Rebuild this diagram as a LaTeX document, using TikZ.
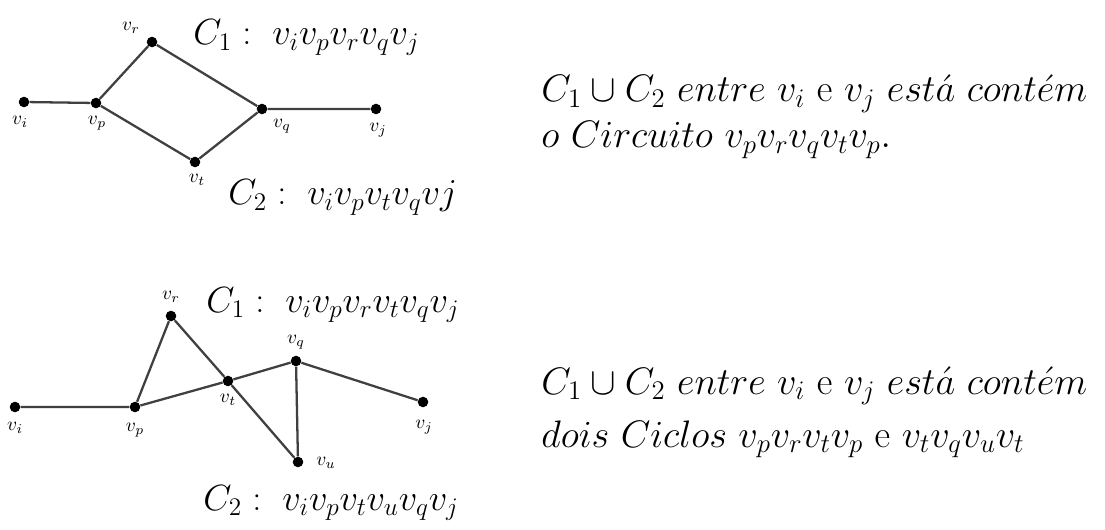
\RequirePackage{fix-cm}
\documentclass[tikz,border=0pt]{standalone}
\usepackage{amsmath,amssymb}
\usepackage{tikz}

\tikzset{
  vtx/.style={circle,fill=black,inner sep=0pt,minimum size=6pt},
  edge/.style={black!75,line width=1.3pt},
  vlab/.style={font=\fontsize{11}{13}\selectfont},
  cyc/.style={anchor=base west,inner sep=0pt,font=\fontsize{20.74}{25}\selectfont},
  rem/.style={cyc,font=\fontsize{21.8}{26}\selectfont},
}

\begin{document}
\begin{tikzpicture}[x=0.02cm,y=-0.02cm]
\useasboundingbox (0,0) rectangle (1105,530);
% first graph
\node[vtx] (ai) at (24,102) {};
\node[vtx] (ap) at (96,103) {};
\node[vtx] (ar) at (152,42) {};
\node[vtx] (aq) at (262,109) {};
\node[vtx] (aj) at (376,109) {};
\node[vtx] (at) at (195,162) {};
\draw[edge] (ai) -- (ap) -- (ar) -- (aq) -- (aj);
\draw[edge] (ap) -- (at) -- (aq);
\node[vlab] (ail) at (20,122) {$v_i$};
\node[vlab] (apl) at (97,123) {$v_p$};
\node[vlab] (arl) at (131,28) {$v_r$};
\node[vlab] (aql) at (282,126) {$v_q$};
\node[vlab] (ajl) at (378,130) {$v_j$};
\node[vlab] (atl) at (197,180) {$v_t$};
\node[cyc] (ac1) at (193,45) {$C_1:\ v_iv_pv_rv_qv_j$};
\node[cyc] (ac2) at (228,205) {$C_2:\ v_iv_pv_tv_qvj$};
\node[rem] (arem1) at (541,102) {$C_1\cup C_2\ entre\ v_i\ \mathrm{e}\ v_j\ est\acute{a}\ cont\acute{e}m$};
\node[rem] (arem2) at (541,148) {$o\ Circuito\ v_pv_rv_qv_tv_p.$};
% second graph
\node[vtx] (bi) at (15,407) {};
\node[vtx] (bp) at (135,407) {};
\node[vtx] (br) at (171,316) {};
\node[vtx] (bt) at (228,381) {};
\node[vtx] (bq) at (296,361) {};
\node[vtx] (bj) at (423,402) {};
\node[vtx] (bu) at (298,462) {};
\draw[edge] (bi) -- (bp) -- (br) -- (bt) -- (bu) -- (bq) -- (bj);
\draw[edge] (bp) -- (bt) -- (bq);
\node[vlab] (bil) at (15,428) {$v_i$};
\node[vlab] (bpl) at (135,430) {$v_p$};
\node[vlab] (brl) at (171,297) {$v_r$};
\node[vlab] (bql) at (296,342) {$v_q$};
\node[vlab] (btl) at (228,400) {$v_t$};
\node[vlab] (bjl) at (424,427) {$v_j$};
\node[vlab] (bul) at (326,463) {$v_u$};
\node[cyc] (bc1) at (206,312) {$C_1:\ v_iv_pv_rv_tv_qv_j$};
\node[cyc] (bc2) at (203,510) {$C_2:\ v_iv_pv_tv_uv_qv_j$};
\node[rem] (brem1) at (541,394) {$C_1\cup C_2\ entre\ v_i\ \mathrm{e}\ v_j\ est\acute{a}\ cont\acute{e}m$};
\node[rem] (brem2) at (541,447) {$dois\ Ciclos\ v_pv_rv_tv_p\ \mathrm{e}\ v_tv_qv_uv_t$};
\end{tikzpicture}
\end{document}
